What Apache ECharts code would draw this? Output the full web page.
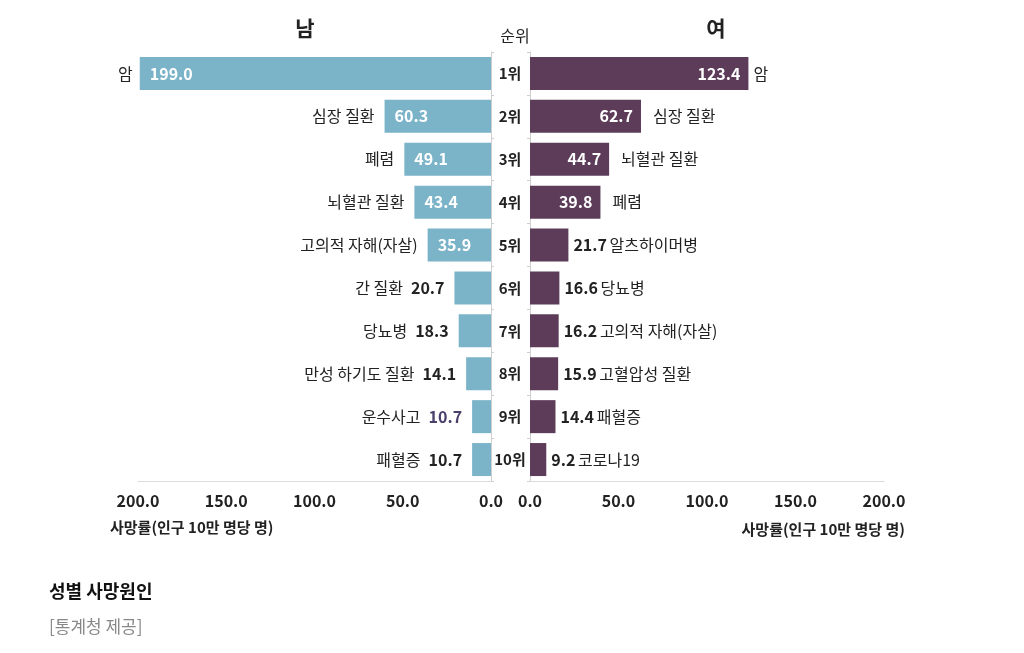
<!DOCTYPE html>
<html>
<head>
<meta charset="utf-8">
<script src="https://cdn.jsdelivr.net/npm/echarts@6/dist/echarts.min.js"></script>
<style>
  html, body { margin: 0; padding: 0; background: #fff; }
  #chart { width: 1024px; height: 653px; }
</style>
</head>
<body>
<div id="chart"></div>
<script>
// 순위
var ranks = ['1위', '2위', '3위', '4위', '5위', '6위', '7위', '8위', '9위', '10위']
// 남자 사망원인 / 사망률
var maleNames = ['암', '심장 질환', '폐렴', '뇌혈관 질환', '고의적 자해(자살)', '간 질환', '당뇨병', '만성 하기도 질환', '운수사고', '패혈증']
var maleVals = [199.0, 60.3, 49.1, 43.4, 35.9, 20.7, 18.3, 14.1, 10.7, 10.7]
// 여자 사망원인 / 사망률
var femaleNames = ['암', '심장 질환', '뇌혈관 질환', '폐렴', '알츠하이머병', '당뇨병', '고의적 자해(자살)', '고혈압성 질환', '패혈증', '코로나19']
var femaleVals = [123.4, 62.7, 44.7, 39.8, 21.7, 16.6, 16.2, 15.9, 14.4, 9.2]
var axisTicks = [0, 50, 100, 150, 200]
var axisTitle = '사망률(인구 10만 명당 명)'

var FONT = '"Noto Sans CJK KR", "Noto Sans", sans-serif'
var BLUE = '#7bb3c9'
var PURPLE = '#5d3c5a'
var DARK = '#222'

// 값 라벨을 막대 안에 넣는 행 수
var maleInside = 5
var femaleInside = 4

var chart = echarts.init(document.getElementById('chart'))

function valueAxis (idx, inverse) {
  return {
    type: 'value',
    gridIndex: idx,
    min: axisTicks[0],
    max: axisTicks[axisTicks.length - 1],
    interval: 50,
    inverse: inverse,
    splitLine: { show: false },
    axisLine: { show: true, lineStyle: { color: '#dcdcdc' } },
    axisTick: { show: false },
    axisLabel: {
      formatter: function (v) { return v.toFixed(1) },
      color: DARK, fontFamily: FONT, fontWeight: 'bold', fontSize: 16, margin: 12
    }
  }
}

function catAxis (idx, showLabel) {
  return {
    type: 'category',
    gridIndex: idx,
    data: ranks,
    inverse: true,
    position: idx === 0 ? 'right' : 'left',
    axisLine: { show: true, lineStyle: { color: '#cfcfcf' } },
    axisTick: { show: true, length: 3, lineStyle: { color: '#cfcfcf' } },
    axisLabel: {
      show: showLabel,
      align: 'center',
      margin: 20,
      color: DARK, fontFamily: FONT, fontWeight: 'bold', fontSize: 15
    }
  }
}

var maleBarData = maleVals.map(function (v, i) {
  return {
    value: v,
    label: i < maleInside
      ? { show: true, position: 'insideLeft', distance: 10, color: '#fff', formatter: v.toFixed(1) }
      : { show: false }
  }
})
var maleNameData = maleVals.map(function (v, i) {
  var txt = i < maleInside
    ? '{n|' + maleNames[i] + '}'
    : '{n|' + maleNames[i] + '}   {' + (i === 8 ? 'p' : 'v') + '|' + v.toFixed(1) + '}'
  return { value: v, label: { formatter: txt, distance: i === 0 ? 7 : 10 } }
})
var femaleBarData = femaleVals.map(function (v, i) {
  return {
    value: v,
    label: i < femaleInside
      ? { show: true, position: 'insideRight', distance: 8, color: '#fff', formatter: v.toFixed(1) }
      : { show: false }
  }
})
var femaleNameData = femaleVals.map(function (v, i) {
  var txt = i < femaleInside
    ? '{n|' + femaleNames[i] + '}'
    : '{v|' + v.toFixed(1) + '} {n|' + femaleNames[i] + '}'
  return { value: v, label: { formatter: txt, distance: i === 0 ? 5 : (i < femaleInside ? 12 : 5) } }
})

var richText = {
  n: { color: DARK, fontFamily: FONT, fontSize: 16 },
  v: { color: DARK, fontFamily: FONT, fontSize: 16, fontWeight: 'bold' },
  p: { color: '#4a3f6b', fontFamily: FONT, fontSize: 16, fontWeight: 'bold' }
}

var option = {
  backgroundColor: '#fff',
  textStyle: { fontFamily: FONT },
  animation: false,
  title: [
    { text: '남', left: 300, top: 13, textAlign: 'center', textStyle: { fontFamily: FONT, fontSize: 21, fontWeight: 'bold', color: DARK } },
    { text: '여', left: 711, top: 13, textAlign: 'center', textStyle: { fontFamily: FONT, fontSize: 21, fontWeight: 'bold', color: DARK } },
    { text: '순위', left: 510, top: 23, textAlign: 'center', textStyle: { fontFamily: FONT, fontSize: 16, fontWeight: 'normal', color: DARK } },
    { text: '성별 사망원인', left: 44, top: 577, textStyle: { fontFamily: FONT, fontSize: 18, fontWeight: 'bold', color: '#111' } },
    { text: '[통계청 제공]', left: 44, top: 613, textStyle: { fontFamily: FONT, fontSize: 17, fontWeight: 'normal', color: '#888' } }
  ],
  graphic: [
    { type: 'text', left: 110, top: 520, style: { text: axisTitle, fill: DARK, font: 'bold 15px ' + FONT } },
    { type: 'text', right: 119, top: 522, style: { text: axisTitle, fill: DARK, font: 'bold 15px ' + FONT } }
  ],
  grid: [
    { left: 138, right: 533, top: 52, bottom: 172 },
    { left: 530, right: 140, top: 52, bottom: 172 }
  ],
  xAxis: [valueAxis(0, true), valueAxis(1, false)],
  yAxis: [catAxis(0, false), catAxis(1, true)],
  series: [
    {
      type: 'bar', xAxisIndex: 0, yAxisIndex: 0,
      data: maleBarData, barWidth: 33,
      itemStyle: { color: BLUE },
      label: { fontFamily: FONT, fontSize: 16, fontWeight: 'bold' },
      z: 2
    },
    {
      type: 'bar', xAxisIndex: 0, yAxisIndex: 0,
      data: maleNameData, barWidth: 33, barGap: '-100%',
      itemStyle: { color: 'rgba(0,0,0,0)' },
      label: { show: true, position: 'left', rich: richText },
      z: 3
    },
    {
      type: 'bar', xAxisIndex: 1, yAxisIndex: 1,
      data: femaleBarData, barWidth: 33,
      itemStyle: { color: PURPLE },
      label: { fontFamily: FONT, fontSize: 16, fontWeight: 'bold' },
      z: 2
    },
    {
      type: 'bar', xAxisIndex: 1, yAxisIndex: 1,
      data: femaleNameData, barWidth: 33, barGap: '-100%',
      itemStyle: { color: 'rgba(0,0,0,0)' },
      label: { show: true, position: 'right', rich: richText },
      z: 3
    }
  ]
}

chart.setOption(option)
</script>
</body>
</html>
